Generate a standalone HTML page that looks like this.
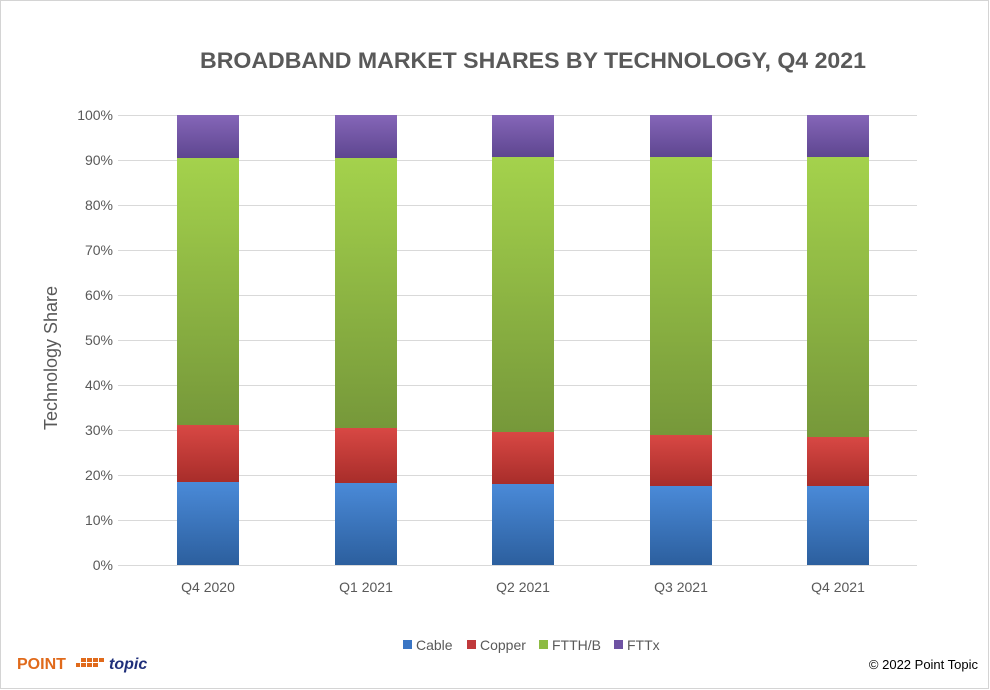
<!DOCTYPE html>
<html><head><style>
body{margin:0;background:#fff;}
svg{display:block;}
text{font-family:"Liberation Sans",sans-serif;}
</style></head><body>
<svg width="990" height="690" xmlns="http://www.w3.org/2000/svg">
<defs>
<linearGradient id="gb" x1="0" x2="0" y1="0" y2="1"><stop offset="0" stop-color="#4a8ad8"/><stop offset="1" stop-color="#2c5f9e"/></linearGradient>
<linearGradient id="gr" x1="0" x2="0" y1="0" y2="1"><stop offset="0" stop-color="#d84844"/><stop offset="1" stop-color="#a82d2a"/></linearGradient>
<linearGradient id="gg" x1="0" x2="0" y1="0" y2="1"><stop offset="0" stop-color="#a4d24c"/><stop offset="1" stop-color="#76983a"/></linearGradient>
<linearGradient id="gp" x1="0" x2="0" y1="0" y2="1"><stop offset="0" stop-color="#8566b8"/><stop offset="1" stop-color="#5e4690"/></linearGradient>
</defs>
<rect x="0.5" y="0.5" width="988" height="688" fill="#fff" stroke="#d4d4d4"/>
<text x="200" y="68" textLength="666" lengthAdjust="spacingAndGlyphs" font-size="22" font-weight="bold" fill="#595959">BROADBAND MARKET SHARES BY TECHNOLOGY,  Q4 2021</text>
<g stroke="#d9d9d9" stroke-width="1">
<line x1="118" x2="917" y1="115.5" y2="115.5"/><line x1="118" x2="917" y1="160.5" y2="160.5"/>
<line x1="118" x2="917" y1="205.5" y2="205.5"/><line x1="118" x2="917" y1="250.5" y2="250.5"/>
<line x1="118" x2="917" y1="295.5" y2="295.5"/><line x1="118" x2="917" y1="340.5" y2="340.5"/>
<line x1="118" x2="917" y1="385.5" y2="385.5"/><line x1="118" x2="917" y1="430.5" y2="430.5"/>
<line x1="118" x2="917" y1="475.5" y2="475.5"/><line x1="118" x2="917" y1="520.5" y2="520.5"/>
<line x1="118" x2="917" y1="565.5" y2="565.5"/>
</g>
<g font-size="14" fill="#595959" text-anchor="end">
<text x="113" y="120">100%</text><text x="113" y="165">90%</text><text x="113" y="210">80%</text>
<text x="113" y="255">70%</text><text x="113" y="300">60%</text><text x="113" y="345">50%</text>
<text x="113" y="390">40%</text><text x="113" y="435">30%</text><text x="113" y="480">20%</text>
<text x="113" y="525">10%</text><text x="113" y="570">0%</text>
</g>
<text transform="translate(57,358) rotate(-90)" text-anchor="middle" font-size="18" fill="#595959">Technology Share</text>
<g>
<rect x="177" y="482" width="62" height="83" fill="url(#gb)"/><rect x="177" y="425" width="62" height="57" fill="url(#gr)"/><rect x="177" y="158" width="62" height="267" fill="url(#gg)"/><rect x="177" y="115" width="62" height="43" fill="url(#gp)"/>
<rect x="335" y="483" width="62" height="82" fill="url(#gb)"/><rect x="335" y="428" width="62" height="55" fill="url(#gr)"/><rect x="335" y="158" width="62" height="270" fill="url(#gg)"/><rect x="335" y="115" width="62" height="43" fill="url(#gp)"/>
<rect x="492" y="484" width="62" height="81" fill="url(#gb)"/><rect x="492" y="432" width="62" height="52" fill="url(#gr)"/><rect x="492" y="157" width="62" height="275" fill="url(#gg)"/><rect x="492" y="115" width="62" height="42" fill="url(#gp)"/>
<rect x="650" y="486" width="62" height="79" fill="url(#gb)"/><rect x="650" y="435" width="62" height="51" fill="url(#gr)"/><rect x="650" y="157" width="62" height="278" fill="url(#gg)"/><rect x="650" y="115" width="62" height="42" fill="url(#gp)"/>
<rect x="807" y="486" width="62" height="79" fill="url(#gb)"/><rect x="807" y="437" width="62" height="49" fill="url(#gr)"/><rect x="807" y="157" width="62" height="280" fill="url(#gg)"/><rect x="807" y="115" width="62" height="42" fill="url(#gp)"/>
</g>
<g font-size="14" fill="#595959" text-anchor="middle">
<text x="208" y="592">Q4 2020</text><text x="366" y="592">Q1 2021</text><text x="523" y="592">Q2 2021</text><text x="681" y="592">Q3 2021</text><text x="838" y="592">Q4 2021</text>
</g>
<g font-size="14" fill="#595959">
<rect x="403" y="640" width="9" height="9" fill="#3a75c4"/><text x="416" y="650">Cable</text>
<rect x="467" y="640" width="9" height="9" fill="#c0393b"/><text x="480" y="650">Copper</text>
<rect x="539" y="640" width="9" height="9" fill="#8dbb43"/><text x="552" y="650">FTTH/B</text>
<rect x="614" y="640" width="9" height="9" fill="#6e52a3"/><text x="627" y="650">FTTx</text>
</g>
<text x="17" y="669" font-size="16" font-weight="bold" fill="#e06a1b">POINT</text>
<g fill="#e06a1b">
<rect x="76" y="663" width="4" height="4"/><rect x="81" y="658" width="5" height="4"/><rect x="87" y="658" width="5" height="4"/><rect x="93" y="658" width="5" height="4"/><rect x="81" y="663" width="5" height="4"/><rect x="87" y="663" width="5" height="4"/><rect x="93" y="663" width="5" height="4"/><rect x="99" y="658" width="5" height="4"/>
</g>
<text x="109" y="669" font-size="16" font-weight="bold" font-style="italic" fill="#1f2f7a">topic</text>
<text x="978" y="669" font-size="13" fill="#000" text-anchor="end">© 2022 Point Topic</text>
</svg>
</body></html>
